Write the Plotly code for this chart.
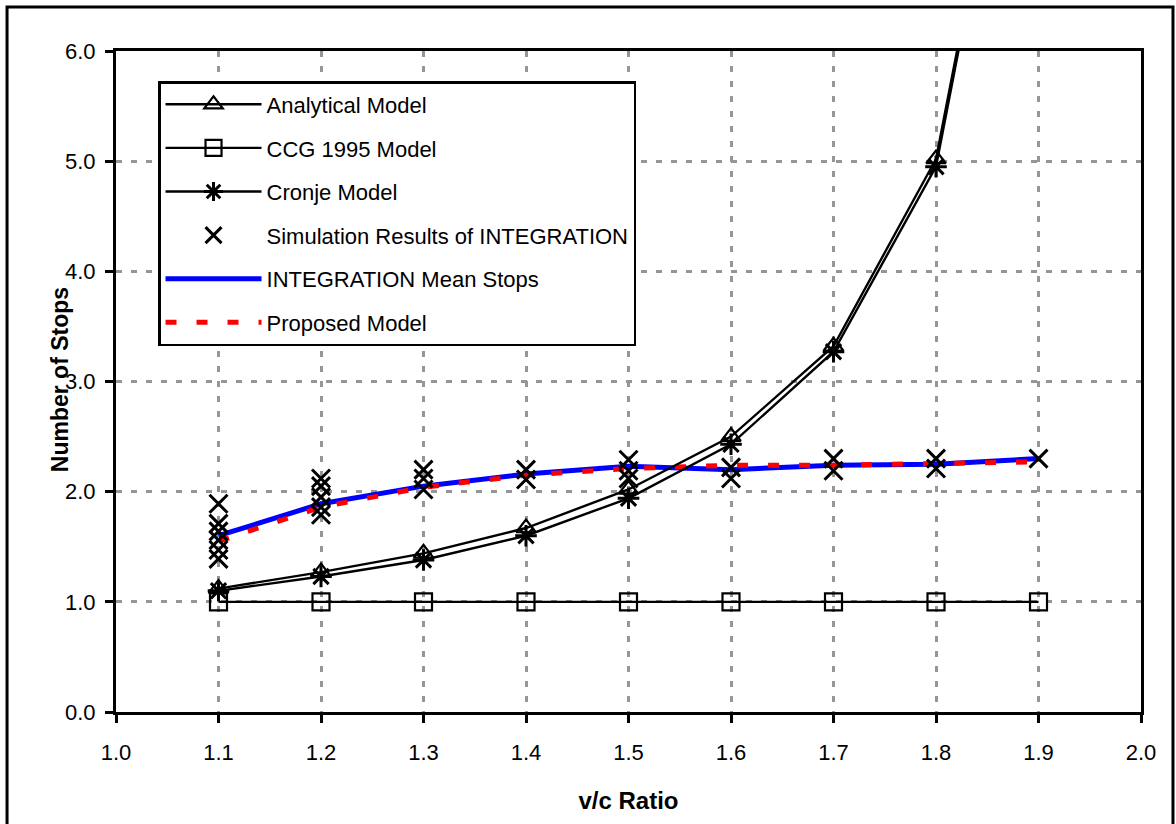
import plotly.graph_objects as go

# v/c ratios at which the models are evaluated
vc_ratio = [1.1, 1.2, 1.3, 1.4, 1.5, 1.6, 1.7, 1.8, 1.9]

# Number of stops predicted by each model
analytical_stops = [1.12, 1.27, 1.44, 1.67, 2.02, 2.50, 3.32, 5.02, 9.80]
ccg1995_stops = [1.0, 1.0, 1.0, 1.0, 1.0, 1.0, 1.0, 1.0, 1.0]
cronje_stops = [1.10, 1.23, 1.38, 1.60, 1.94, 2.43, 3.27, 4.95, 9.75]
integration_mean_stops = [1.60, 1.89, 2.05, 2.16, 2.23, 2.20, 2.24, 2.25, 2.30]
proposed_stops = [1.55, 1.86, 2.04, 2.15, 2.21, 2.24, 2.24, 2.26, 2.27]

# Individual INTEGRATION simulation runs
sim_vc = [1.1, 1.1, 1.1, 1.1, 1.1, 1.1,
          1.2, 1.2, 1.2, 1.2, 1.2,
          1.3, 1.3, 1.3,
          1.4, 1.4,
          1.5, 1.5, 1.5,
          1.6, 1.6,
          1.7, 1.7,
          1.8, 1.8,
          1.9]
sim_stops = [1.89, 1.71, 1.64, 1.56, 1.47, 1.39,
             2.12, 2.05, 1.95, 1.86, 1.79,
             2.20, 2.12, 2.02,
             2.20, 2.11,
             2.29, 2.19, 2.12,
             2.22, 2.12,
             2.30, 2.19,
             2.30, 2.21,
             2.30]

x_ticks = [1.0, 1.1, 1.2, 1.3, 1.4, 1.5, 1.6, 1.7, 1.8, 1.9, 2.0]
y_ticks = [0.0, 1.0, 2.0, 3.0, 4.0, 5.0, 6.0]

FONT = "Liberation Sans, Arial, sans-serif"

fig = go.Figure()

fig.add_trace(go.Scatter(
    x=vc_ratio, y=integration_mean_stops, mode="lines",
    name="INTEGRATION Mean Stops", legendrank=5, legendgroup="g5",
    line=dict(color="#0000FF", width=5),
))
fig.add_trace(go.Scatter(
    x=vc_ratio, y=proposed_stops, mode="lines",
    name="Proposed Model", legendrank=6, legendgroup="g6",
    line=dict(color="#FF0000", width=5, dash="11px,20px"),
))
fig.add_trace(go.Scatter(
    x=vc_ratio, y=analytical_stops, mode="lines+markers",
    name="Analytical Model", legendrank=1, legendgroup="g1",
    line=dict(color="black", width=2.4),
    marker=dict(symbol="triangle-up-open", size=17, color="black",
                line=dict(width=2.2, color="black")),
))
fig.add_trace(go.Scatter(
    x=vc_ratio, y=ccg1995_stops, mode="lines+markers",
    name="CCG 1995 Model", legendrank=2, legendgroup="g2",
    line=dict(color="black", width=2.4),
    marker=dict(symbol="square-open", size=17, color="black",
                line=dict(width=2.2, color="black")),
))
fig.add_trace(go.Scatter(
    x=vc_ratio, y=cronje_stops, mode="lines+markers",
    name="Cronje Model", legendrank=3, legendgroup="g3",
    line=dict(color="black", width=2.4),
    marker=dict(symbol="asterisk-open", size=18, color="black",
                line=dict(width=3, color="black")),
))
fig.add_trace(go.Scatter(
    x=sim_vc, y=sim_stops, mode="markers",
    name="Simulation Results of INTEGRATION", legendrank=4, legendgroup="g4",
    marker=dict(symbol="x-thin-open", size=18, color="black",
                line=dict(width=3, color="black")),
))

grid = dict(showgrid=True, gridcolor="#969696", gridwidth=2.5, griddash="6px,9px")

fig.update_xaxes(
    range=[1.0, 2.0], tickvals=x_ticks, ticktext=[f"{v:.1f}" for v in x_ticks],
    ticks="outside", ticklen=8, tickwidth=3, tickcolor="black",
    showline=True, linecolor="black", linewidth=3, mirror=True,
    zeroline=False, ticklabelstandoff=11,
    tickfont=dict(family=FONT, size=22, color="black"),
    title=dict(text="<b>v/c Ratio</b>", font=dict(family=FONT, size=24, color="black"),
               standoff=28),
    automargin=False, **grid,
)
fig.update_yaxes(
    range=[0.0, 6.0], tickvals=y_ticks, ticktext=[f"{v:.1f}" for v in y_ticks],
    ticks="outside", ticklen=8, tickwidth=3, tickcolor="black",
    showline=True, linecolor="black", linewidth=3, mirror=True,
    zeroline=False, ticklabelstandoff=5,
    tickfont=dict(family=FONT, size=22, color="black"),
    automargin=False, **grid,
)

# y-axis title sits close to the tick labels
fig.add_annotation(
    text="<b>Number of Stops</b>", xref="paper", yref="paper",
    x=-0.0546, y=0.502, textangle=-90, showarrow=False,
    xanchor="center", yanchor="middle",
    font=dict(family=FONT, size=23, color="black"),
)

# Outer frame around the whole chart
fig.add_shape(type="rect", xref="paper", yref="paper",
              x0=-0.1063, x1=1.0312, y0=-0.20, y1=1.0666,
              line=dict(color="black", width=3), fillcolor="rgba(0,0,0,0)", layer="above")

fig.update_layout(
    width=1176, height=824,
    margin=dict(l=116, r=35, t=51, b=112, autoexpand=False),
    paper_bgcolor="white", plot_bgcolor="white",
    font=dict(family=FONT, color="black"),
    showlegend=True,
    legend=dict(
        x=0.041, y=0.9546, xanchor="left", yanchor="top",
        bgcolor="white", bordercolor="black", borderwidth=2.5,
        font=dict(family=FONT, size=22, color="black"),
        tracegroupgap=12, itemwidth=96,
        traceorder="grouped",
    ),
)

fig.write_html("out.html")
